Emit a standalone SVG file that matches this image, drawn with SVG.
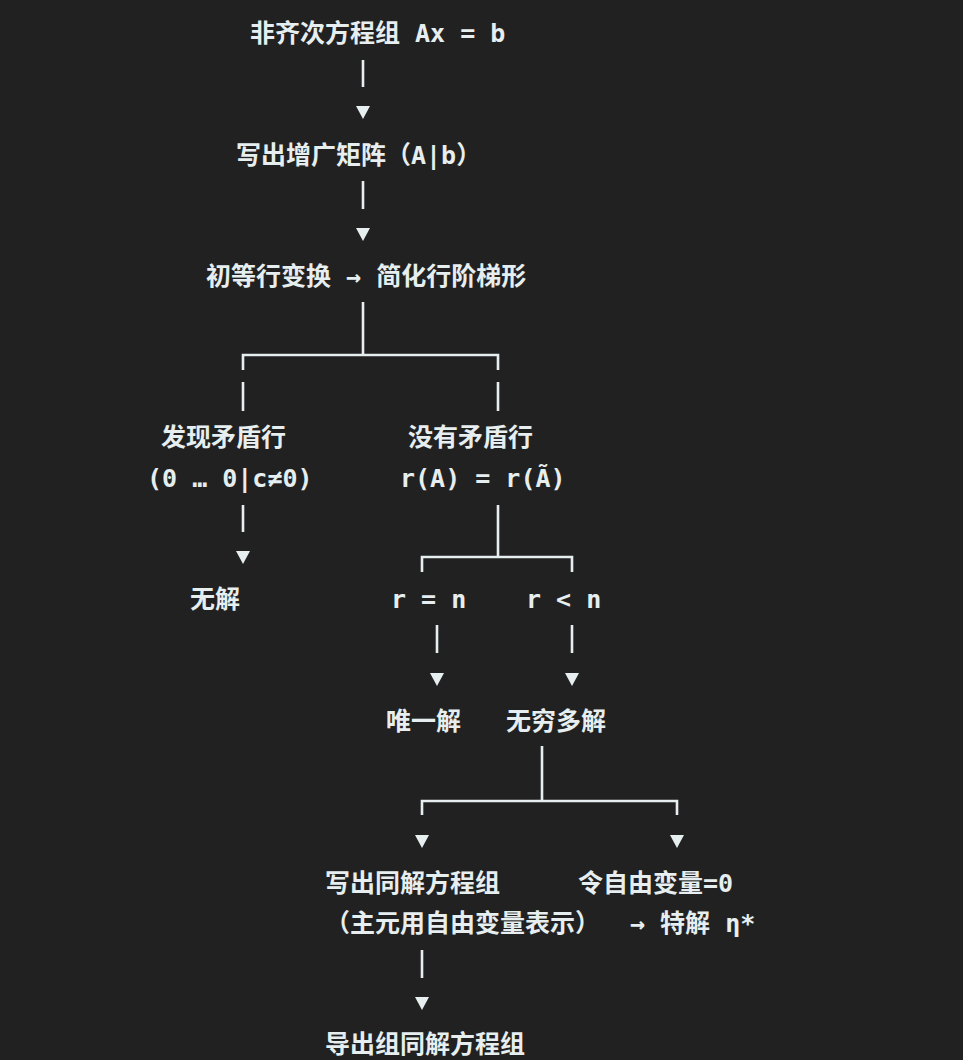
<svg xmlns="http://www.w3.org/2000/svg" width="963" height="1060" viewBox="0 0 963 1060">
<style>
text{font-family:"DejaVu Sans Mono","Noto Sans CJK SC",monospace;font-size:25px;font-weight:600;fill:#e6eef0}
.c line,.c polyline{stroke:#e6eef0;stroke-width:2.6;fill:none}
.c polygon{fill:#e6eef0}
</style>
<rect width="963" height="1060" fill="#212121"/>
<g id="n1"><text x="250" y="42">非齐次方程组 Ax = b</text></g>
<g id="n2"><text x="236" y="164">写出增广矩阵（A|b）</text></g>
<g id="n3"><text x="206" y="285">初等行变换 → 简化行阶梯形</text></g>
<g id="n4"><text x="161" y="446">发现矛盾行</text><text x="147" y="487">(0 … 0|c≠0)</text></g>
<g id="n5"><text x="408" y="446">没有矛盾行</text><text x="400" y="487">r(A) = r(Ã)</text></g>
<g id="n6"><text x="190" y="608">无解</text></g>
<g id="n7"><text x="391" y="608">r = n</text></g>
<g id="n8"><text x="526" y="608">r &lt; n</text></g>
<g id="n9"><text x="386" y="730">唯一解</text></g>
<g id="n10"><text x="506" y="730">无穷多解</text></g>
<g id="n11"><text x="325" y="892">写出同解方程组</text><text x="325" y="932">（主元用自由变量表示）</text></g>
<g id="n12"><text x="578" y="892">令自由变量=0</text><text x="630" y="932">→ 特解 η*</text></g>
<g id="n13"><text x="325" y="1053">导出组同解方程组</text></g>
<g class="c" id="connectors">
<line x1="363" y1="60" x2="363" y2="87"/><polygon points="356,106 370,106 363,119"/>
<line x1="363" y1="181" x2="363" y2="209"/><polygon points="356,228 370,228 363,241"/>
<line x1="363" y1="302" x2="363" y2="355"/>
<polyline points="243,370 243,355 498,355 498,370"/>
<line x1="243" y1="382" x2="243" y2="411"/><line x1="498" y1="382" x2="498" y2="411"/>
<line x1="243" y1="505" x2="243" y2="532"/><polygon points="236,551 250,551 243,564"/>
<line x1="498" y1="505" x2="498" y2="557"/>
<polyline points="422,572 422,557 572,557 572,572"/>
<line x1="437" y1="625" x2="437" y2="653"/><polygon points="430,673 444,673 437,686"/>
<line x1="572" y1="625" x2="572" y2="653"/><polygon points="565,673 579,673 572,686"/>
<line x1="542" y1="746" x2="542" y2="801"/>
<polyline points="422,815 422,801 677,801 677,815"/>
<polygon points="415,835 429,835 422,848"/><polygon points="670,835 684,835 677,848"/>
<line x1="422" y1="950" x2="422" y2="978"/><polygon points="415,997 429,997 422,1010"/>
</g>
</svg>
